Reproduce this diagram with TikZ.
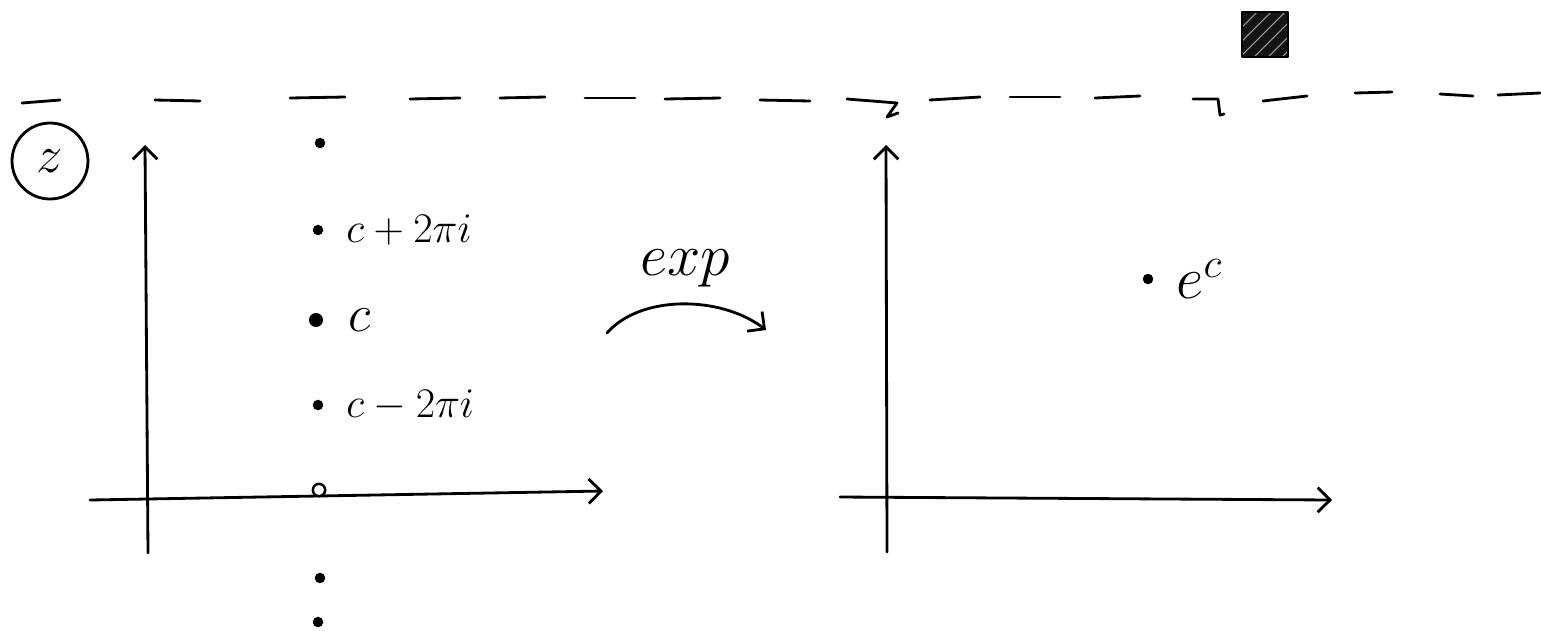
\RequirePackage{fix-cm}
\documentclass[tikz,border=0pt]{standalone}
\usetikzlibrary{positioning, arrows.meta}

\begin{document}
\begin{tikzpicture}[
		% Unidades en pixeles del boceto (y hacia abajo)
		x=0.02cm, y=-0.02cm,
		% Estilos de trazos
		trazo/.style={line width=1.6pt, line cap=round, line join=round},
		eje/.style={trazo, -{Straight Barb[length=7pt, width=14pt]}},
		% Estilos de puntos y etiquetas
		punto/.style={circle, fill=black, inner sep=0pt, minimum size=6pt},
		hueco/.style={circle, draw, fill=white, line width=1.4pt, inner sep=0pt, minimum size=7pt},
		etiqueta/.style={font=\fontsize{24}{24}\selectfont, inner sep=0pt}
		]
		
		\useasboundingbox (0,0) rectangle (1541,630);
		
		% --- LINEA DE CORTE (DISCONTINUA) ---
		\foreach \xa/\ya/\xb/\yb in {22/103/60/100, 155/100/200/101, 290/98/345/97, 410/99/460/98,
			500/98/545/97, 585/98/635/98, 665/99/720/98, 760/100/810/101, 930/100/980/97,
			1010/97/1060/97, 1095/98/1140/96, 1263/101/1307/96, 1355/93/1392/92,
			1440/94/1473/96, 1498/95/1540/93}
		\draw[trazo] (\xa,\ya) -- (\xb,\yb);
		% Trazos con gancho
		\draw[trazo] (847,99) -- (897,103) -- (887,117) -- (898,113);
		\draw[trazo] (1193,99) -- (1218,99) -- (1220,115) -- (1224,114);
		
		% Cuadrado sombreado
		\begin{scope}
			\clip (1242,12) rectangle (1288,57);
			\fill[black!92] (1242,12) rectangle (1288,57);
			\foreach \d in {0,14,...,84}
			\draw[white!60!black, line width=0.6pt] (1242+\d-30,57) -- (1242+\d+15,12);
		\end{scope}
		\draw[trazo] (1242,12) rectangle (1288,57);
		
		% --- PLANO DE PARTIDA (IZQUIERDA) ---
		\node[circle, draw, trazo, minimum size=1.52cm, inner sep=0pt, font=\fontsize{30}{30}\selectfont] (zeta) at (50,161) {$z$};
		
		\coordinate (izq_y0) at (148,553);
		\coordinate (izq_y1) at (145,145);
		\coordinate (izq_x0) at (90,500);
		\coordinate (izq_x1) at (603,491);
		\draw[eje] (izq_y0) -- (izq_y1);
		\draw[eje] (izq_x0) -- (izq_x1);
		
		% Puntos c + 2 pi i k
		\node[punto] (parr) at (320,143) {};
		\node[punto] (pmas) at (318,230) {};
		\node[punto, minimum size=8pt] (pc) at (316,320) {};
		\node[punto] (pmenos) at (318,405) {};
		\node[hueco] (peje) at (319,490) {};
		\node[punto] (pab1) at (320,578) {};
		\node[punto] (pab2) at (318,622) {};
		
		\node[etiqueta, right=0.45cm of pmas] (lmas) {$c+2\pi i$};
		\node[etiqueta, right=0.5cm of pc, font=\fontsize{30}{30}\selectfont] (lc) {$c$};
		\node[etiqueta, right=0.45cm of pmenos] (lmenos) {$c-2\pi i$};
		
		% --- APLICACION EXPONENCIAL ---
		\coordinate (exp_ini) at (607,333);
		\coordinate (exp_fin) at (766,330);
		\draw[eje] (exp_ini) .. controls (640,295) and (720,295) .. (exp_fin);
		\node[etiqueta, font=\fontsize{34}{34}\selectfont] (lexp) at (685,268) {$exp$};
		
		% --- PLANO DE LLEGADA (DERECHA) ---
		\coordinate (der_y0) at (887,552);
		\coordinate (der_y1) at (886,145);
		\coordinate (der_x0) at (840,497);
		\coordinate (der_x1) at (1332,500);
		\draw[eje] (der_y0) -- (der_y1);
		\draw[eje] (der_x0) -- (der_x1);
		
		\node[punto] (pe) at (1148,279) {};
		\node[etiqueta, right=0.45cm of pe, font=\fontsize{34}{34}\selectfont] (le) {$e^{c}$};
		
	\end{tikzpicture}
\end{document}
